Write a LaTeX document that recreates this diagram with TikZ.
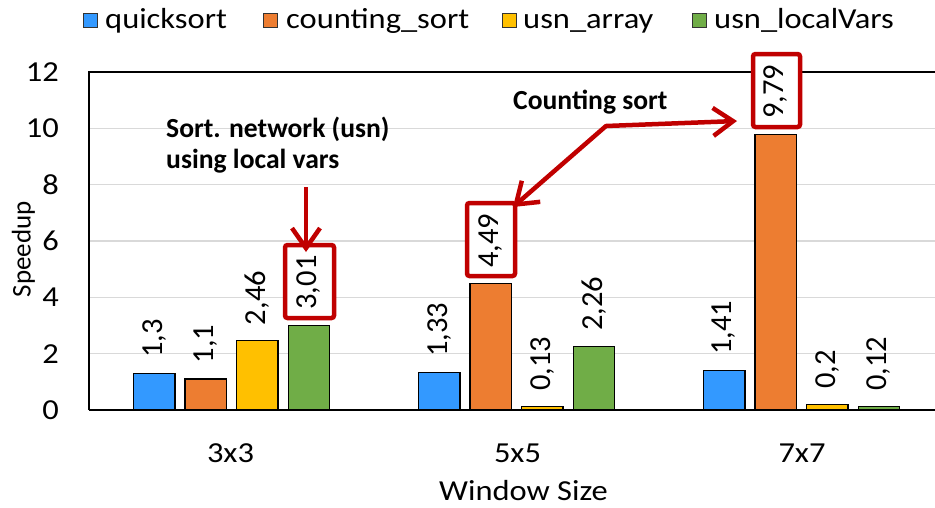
\documentclass[tikz,border=0pt]{standalone}
\usepackage{fontspec}
\setmainfont{Carlito}
\usepackage{graphicx}
\usetikzlibrary{arrows.meta}
\definecolor{qsblue}{HTML}{3399FF}
\definecolor{csorange}{HTML}{ED7D31}
\definecolor{usnyellow}{HTML}{FFC000}
\definecolor{usngreen}{HTML}{70AD47}
\definecolor{hlred}{HTML}{C00000}
\definecolor{gridgray}{HTML}{D9D9D9}
\newcommand{\hs}[1]{\scalebox{1.12}[1]{#1}}
\newcommand{\onebar}[5]{%
  \pgfmathsetmacro{\ytop}{410-#3*28.1667}%
  \draw[bar,fill=#4] ({#2-20.75},410) rectangle ({#2+20.75},\ytop);%
  \node[vallbl] (#1) at (#2,\ytop-15.5) {#5};%
}
\begin{document}
\begin{tikzpicture}[x=1pt,y=-1pt,
  bar/.style={draw=black,line width=1.3pt},
  lbl/.style={inner sep=0pt,font=\fontsize{29}{35}\selectfont},
  vallbl/.style={rotate=90,anchor=west,inner sep=0pt,font=\fontsize{30.5}{36}\selectfont},
  note/.style={inner sep=0pt,anchor=base west,font=\fontsize{27.6}{31}\selectfont\bfseries},
  hlbox/.style={draw=hlred,line width=4.5pt,fill=white,rounded corners=2.5pt,inner sep=0pt,outer sep=0pt},
  hlarrow/.style={draw=hlred,line width=4.5pt,line join=round,-{Straight Barb[length=20pt,width=28pt]}},
  hlbiarrow/.style={draw=hlred,line width=4.5pt,line join=round,{Straight Barb[length=20pt,width=28pt]}-{Straight Barb[length=20pt,width=28pt]}},
  legsq/.style={draw=black!80,line width=1pt,minimum size=14pt,inner sep=0pt,outer sep=0pt},
  gridline/.style={draw=gridgray,line width=1.4pt}
]
\useasboundingbox (0,0) rectangle (935,507);
\clip (0,0) rectangle (935,507);
% gridlines
\foreach \v in {2,4,6,8,10} {
  \draw[gridline] (89,{410-\v*28.1667}) -- (944,{410-\v*28.1667});
}
% frame
\draw[black,line width=1.2pt] (89,410) -- (89,72) -- (944,72);
% tick labels
\foreach \v in {0,2,4,6,8,10,12} {
  \node[lbl,anchor=east] (tick\v) at (59,{410-\v*28.1667}) {\hs{\v}};
}
% highlight boxes
\node[hlbox,minimum width=49pt,minimum height=73pt] (box1) at (309.5,281.5) {};
\node[hlbox,minimum width=48pt,minimum height=73pt] (box2) at (491,239.5) {};
\node[hlbox,minimum width=47pt,minimum height=73pt] (box3) at (776.5,90.5) {};
% bars
\onebar{lab1}{154.1}{1.3}{qsblue}{1,3}
\onebar{lab2}{205.7}{1.1}{csorange}{1,1}
\onebar{lab3}{257.3}{2.46}{usnyellow}{2,46}
\onebar{lab4}{308.9}{3.01}{usngreen}{3,01}
\onebar{lab5}{439.1}{1.33}{qsblue}{1,33}
\onebar{lab6}{490.7}{4.49}{csorange}{4,49}
\onebar{lab7}{542.3}{0.13}{usnyellow}{0,13}
\onebar{lab8}{593.9}{2.26}{usngreen}{2,26}
\onebar{lab9}{724.1}{1.41}{qsblue}{1,41}
\onebar{lab10}{775.7}{9.79}{csorange}{9,79}
\onebar{lab11}{827.3}{0.2}{usnyellow}{0,2}
\onebar{lab12}{878.9}{0.12}{usngreen}{0,12}
% x axis
\draw[black,line width=2pt] (89,410) -- (944,410);
% category labels
\node[lbl,anchor=base] (cat1) at (230.5,462) {\hs{3x3}};
\node[lbl,anchor=base] (cat2) at (517.5,462) {\hs{5x5}};
\node[lbl,anchor=base] (cat3) at (802,462) {\hs{7x7}};
% axis titles
\node[lbl,anchor=base] (xtitle) at (523.5,500.5) {\hs{Window Size}};
\node[inner sep=0pt,rotate=90,font=\fontsize{27}{32}\selectfont] (ytitle) at (23.5,249) {Speedup};
% legend
\node[legsq,fill=qsblue] (sq1) at (90,20) {};
\node[lbl,anchor=base west] (leg1) at (105,28) {\hs{quicksort}};
\node[legsq,fill=csorange] (sq2) at (270,20) {};
\node[lbl,anchor=base west] (leg2) at (286,28) {\hs{counting\_sort}};
\node[legsq,fill=usnyellow] (sq3) at (509,20) {};
\node[lbl,anchor=base west] (leg3) at (523,28) {\hs{usn\_array}};
\node[legsq,fill=usngreen] (sq4) at (699,20) {};
\node[lbl,anchor=base west] (leg4) at (714,28) {\hs{usn\_localVars}};
% annotations
\node[note] (note1a) at (166,137) {Sort. network (usn)};
\node[note] (note1b) at (166,168) {using local vars};
\node[note] (note2) at (513,109) {Counting sort};
% arrows
\coordinate (a1start) at (306,187);
\coordinate (a1tip) at ([shift={(-3.5,7)}]box1.north);
\draw[hlarrow] (a1start) -- (a1tip);
\coordinate (vtx) at (606,126);
\coordinate (tipL) at ([shift={(-2,4)}]box2.north east);
\coordinate (tipR) at ([shift={(-16,-6)}]box3.south west);
\draw[hlbiarrow] (tipL) -- (vtx) -- (tipR);
\end{tikzpicture}
\end{document}
